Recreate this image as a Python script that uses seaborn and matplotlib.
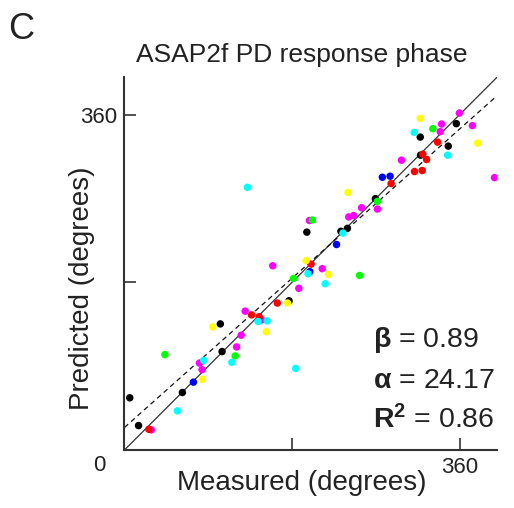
import numpy as np
import pandas as pd
import matplotlib
matplotlib.use("Agg")
import matplotlib.pyplot as plt
import seaborn as sns

# ---- data (degrees) ----
black_x = [356.4, 317.6, 347.7, 317.9, 269.4, 195.8, 232.4, 239.4, 176.7, 102.9, 104.8, 62.2, 5.7, 15.1]
black_y = [350.2, 335.8, 326.1, 316.4, 269.7, 233.8, 234.7, 237.9, 160.1, 135.3, 105.6, 61.7, 56.0, 26.2]

magenta_x = [359.6, 340.5, 373.6, 339.1, 297.4, 397.3, 254.6, 271.6, 246.0, 240.8, 198.6, 212.3, 159.2,
             187.2, 129.6, 147.3, 125.3, 120.4, 80.5, 83.3, 28.8]
magenta_y = [361.6, 349.8, 348.1, 341.6, 311.0, 292.3, 260.0, 258.6, 251.6, 250.1, 246.3, 194.6, 197.7,
             173.5, 149.0, 139.7, 123.2, 110.6, 93.3, 86.2, 21.6]

red_x = [336.2, 320.4, 324.4, 311.4, 319.7, 286.3, 200.4, 164.1, 136.5, 144.6, 26.2]
red_y = [330.4, 317.5, 311.7, 298.8, 299.9, 285.9, 199.5, 157.7, 145.0, 143.0, 22.2]

green_x = [331.1, 271.6, 201.7, 252.5, 181.6, 43.4, 118.9]
green_y = [344.8, 266.8, 246.8, 187.3, 184.1, 102.4, 100.9]

blue_x = [276.9, 285.2, 227.7, 199.0, 74.0]
blue_y = [292.7, 293.8, 220.5, 191.4, 72.8]

yellow_x = [317.6, 379.3, 240.0, 195.0, 219.1, 175.1, 94.8, 152.2, 83.7]
yellow_y = [355.9, 329.3, 276.4, 203.2, 188.4, 157.7, 132.1, 126.9, 75.8]

cyan_x = [311.1, 347.0, 132.0, 234.6, 197.0, 215.5, 143.5, 153.2, 115.3, 85.1, 183.9, 56.8]
cyan_y = [340.8, 316.4, 281.9, 232.8, 189.2, 178.4, 137.9, 138.6, 94.1, 96.2, 87.6, 42.0]

beta = 0.89
alpha = 24.17
r2 = 0.86

title = "ASAP2f PD response phase"
xlabel = "Measured (degrees)"
ylabel = "Predicted (degrees)"
tick_vals = [0, 180, 360]
tick_labels = ["", "", "360"]

# ---- build table ----
groups = [("black", black_x, black_y), ("magenta", magenta_x, magenta_y), ("red", red_x, red_y),
          ("green", green_x, green_y), ("blue", blue_x, blue_y), ("yellow", yellow_x, yellow_y),
          ("cyan", cyan_x, cyan_y)]
df = pd.concat([pd.DataFrame({"measured": gx, "predicted": gy, "group": g}) for g, gx, gy in groups],
               ignore_index=True)
palette = {"black": "#000000", "magenta": "#ff00ff", "red": "#ff0000", "green": "#00ff00",
           "blue": "#0000ff", "yellow": "#ffff00", "cyan": "#00ffff"}

sns.set_style("ticks")
plt.rcParams["font.family"] = ["Liberation Sans", "DejaVu Sans"]
plt.rcParams["mathtext.fontset"] = "custom"
plt.rcParams["mathtext.rm"] = "Liberation Sans"
plt.rcParams["mathtext.bf"] = "Liberation Sans:bold"

fig = plt.figure(figsize=(5.14, 5.08), dpi=100)
ax = fig.add_axes([0.2422, 0.1142, 0.7247, 0.7337])

lim = np.array([0, 400])
ax.plot(lim, lim, color="#333333", lw=0.9, zorder=1)
ax.plot(lim, alpha + beta * lim, color="#111111", lw=0.9, linestyle=(0, (4, 3)), zorder=1)

sns.scatterplot(data=df, x="measured", y="predicted", hue="group", palette=palette,
                s=29, linewidth=0, legend=False, ax=ax, zorder=2)

ax.set_xlim(0, 400)
ax.set_ylim(0, 400)
ax.set_xticks(tick_vals)
ax.set_xticklabels(tick_labels)
ax.set_yticks(tick_vals)
ax.set_yticklabels(tick_labels)
ax.set_xlabel("")
ax.set_ylabel("")
ax.tick_params(direction="in", length=8.5, width=1.2, labelsize=16, pad=5, color="#333333",
               labelcolor="#222222")
for side in ["top", "right"]:
    ax.spines[side].set_visible(False)
for side in ["left", "bottom"]:
    ax.spines[side].set_linewidth(1.5)
    ax.spines[side].set_color("#333333")

txt_color = "#222222"
fig.text(0.5866, 0.878, title, ha="center", va="baseline", fontsize=19, color=txt_color)
fig.text(8 / 514, 0.923, "C", ha="left", va="baseline", fontsize=26, color=txt_color)
fig.text(0.5875, 0.0354, xlabel, ha="center", va="baseline", fontsize=20, color=txt_color)
fig.text(82 / 514, 0.433, ylabel, ha="center", va="center", rotation=90, fontsize=20, color=txt_color)
fig.text(0.1932, 0.0846, "0", ha="center", va="center", fontsize=16, color=txt_color)

fig.text(0.7257, 0.3175, r"$\mathbf{\beta}$" + f" = {beta:.2f}", ha="left", va="baseline",
         fontsize=20.5, color=txt_color)
fig.text(0.7257, 0.2356, r"$\mathbf{\alpha}$" + f" = {alpha:.2f}", ha="left", va="baseline",
         fontsize=20.5, color=txt_color)
fig.text(0.7257, 0.1569, r"$\mathbf{R^2}$" + f" = {r2:.2f}", ha="left", va="baseline",
         fontsize=20.5, color=txt_color)

fig.savefig("out.png", dpi=100)
